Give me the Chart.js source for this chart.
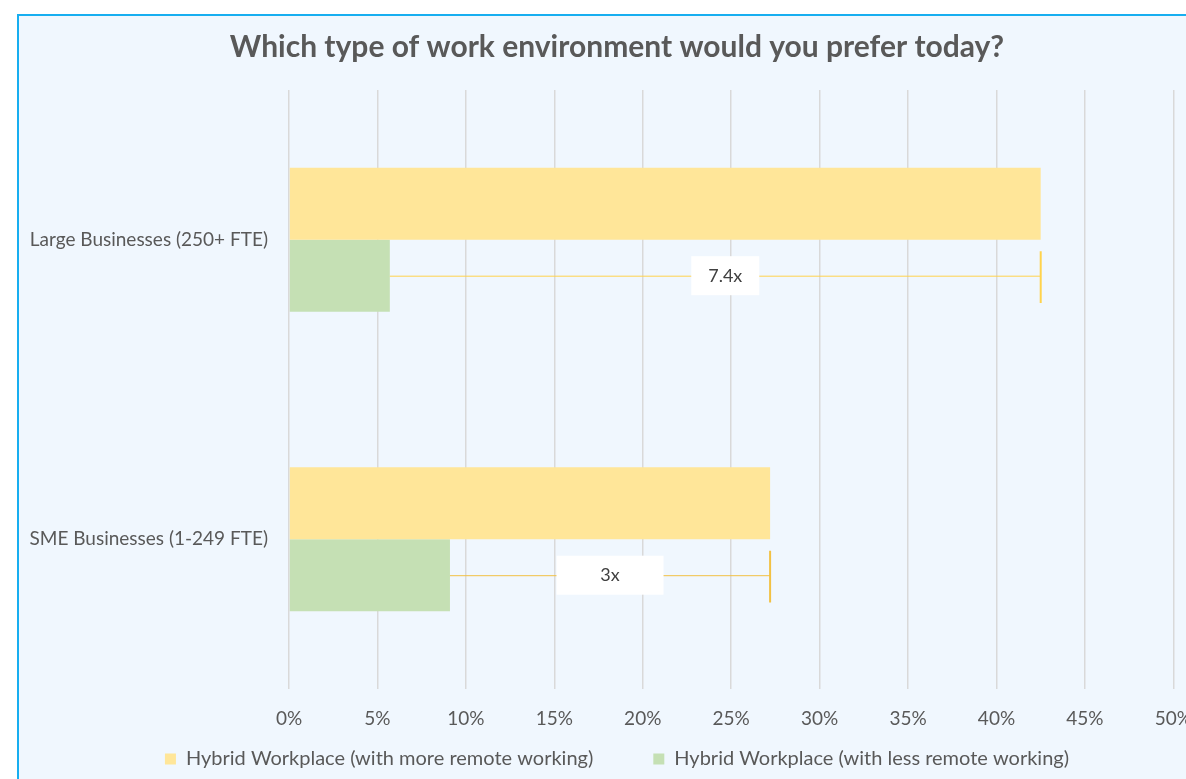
<!DOCTYPE html>
<html>
<head>
<meta charset="utf-8">
<title>Work environment preference</title>
<script src="https://cdn.jsdelivr.net/npm/chart.js@4/dist/chart.umd.min.js"></script>
<style>
  html, body { margin: 0; padding: 0; background: #ffffff; overflow: hidden; }
  body { width: 1186px; height: 779px; position: relative; }
  .frame {
    position: absolute; left: 17px; top: 14px; width: 1300px; height: 900px;
    border-left: 2px solid #17aef0; border-top: 2px solid #17aef0;
    background: #f0f7fe;
  }
  #prefs { position: absolute; left: 24px; top: 0; }
</style>
</head>
<body>
<div class="frame"></div>
<canvas id="prefs" width="1186" height="779"></canvas>
<script>
// survey data
var categories = ['Large Businesses (250+ FTE)', 'SME Businesses (1-249 FTE)'];
var moreRemote = [42.5, 27.2];
var lessRemote = [5.7, 9.1];
var ratioLabels = ['7.4x', '3x'];
var seriesNames = ['Hybrid Workplace (with more remote working)', 'Hybrid Workplace (with less remote working)'];

var textColor = '#595959';
var fontFamily = 'Lato, "Open Sans", sans-serif';

// draws the "n times" bracket between the two bars of each group
var ratioBrackets = {
  id: 'ratioBrackets',
  afterDatasetsDraw: function(chart, args, opts) {
    var ctx = chart.ctx;
    var x = chart.scales.x;
    var meta = chart.getDatasetMeta(1);
    ctx.save();
    for (var i = 0; i < categories.length; i++) {
      var bar = meta.data[i];
      var y = bar.y;
      var x1 = x.getPixelForValue(lessRemote[i]);
      var x2 = x.getPixelForValue(moreRemote[i]);
      ctx.strokeStyle = opts.lineColors[i];
      ctx.lineWidth = 1;
      ctx.beginPath();
      ctx.moveTo(x1, y + 0.5);
      ctx.lineTo(x2, y + 0.5);
      ctx.stroke();
      // end cap
      ctx.lineWidth = 2;
      ctx.beginPath();
      ctx.moveTo(x2, y - bar.height * 0.34);
      ctx.lineTo(x2, y + bar.height * 0.38);
      ctx.stroke();
      // label box
      var cx = (x1 + x2) / 2 + opts.shift[i];
      var w = opts.boxWidths[i], h = 39;
      ctx.fillStyle = '#ffffff';
      ctx.fillRect(cx - w / 2, y - h / 2, w, h);
      ctx.fillStyle = '#404040';
      ctx.font = '18px ' + fontFamily;
      ctx.textAlign = 'center';
      ctx.textBaseline = 'middle';
      ctx.fillText(ratioLabels[i], cx, y);
    }
    ctx.restore();
  }
};

// the legend sits right under the plot, so give the x tick labels
// their room back after layout (they are clipped to the scale box)
var xLabelRoom = {
  id: 'xLabelRoom',
  afterLayout: function(chart) {
    var s = chart.scales.x;
    s.height = 50;
    s.bottom = s.top + 50;
  }
};

var ctx = document.getElementById('prefs').getContext('2d');
var chart = new Chart(ctx, {
  type: 'bar',
  data: {
    labels: categories,
    datasets: [{
      label: seriesNames[0],
      data: moreRemote,
      backgroundColor: '#ffe699'
    }, {
      label: seriesNames[1],
      data: lessRemote,
      backgroundColor: '#c5e0b4'
    }]
  },
  options: {
    indexAxis: 'y',
    responsive: false,
    animation: false,
    categoryPercentage: 0.48,
    barPercentage: 1.0,
    layout: { padding: 0 },
    scales: {
      x: {
        min: 0,
        max: 50,
        afterFit: function(scale) { scale.height = 0; },
        ticks: {
          stepSize: 5,
          maxRotation: 0,
          color: textColor,
          font: { family: fontFamily, size: 19 },
          padding: 18,
          callback: function(v) { return v + '%'; }
        },
        grid: { color: '#d9d9d9', lineWidth: 1.5, drawTicks: false },
        border: { display: false }
      },
      y: {
        afterFit: function(scale) { scale.width = 265; },
        ticks: {
          color: textColor,
          font: { family: fontFamily, size: 19 },
          padding: 13
        },
        grid: { display: false },
        border: { display: false }
      }
    },
    plugins: {
      title: {
        display: true,
        text: 'Which type of work environment would you prefer today?',
        color: textColor,
        font: { family: fontFamily, size: 30, weight: 'bold' },
        padding: { top: 29, bottom: 25 }
      },
      legend: {
        position: 'bottom',
        labels: {
          color: textColor,
          font: { family: fontFamily, size: 20 },
          boxWidth: 11,
          boxHeight: 11,
          padding: 60
        }
      },
      tooltip: { enabled: false },
      ratioBrackets: {
        lineColors: ['#ffd34d', '#f2c144'],
        boxWidths: [68, 107],
        shift: [10, 0]
      }
    }
  },
  plugins: [ratioBrackets, xLabelRoom]
});
</script>
</body>
</html>
